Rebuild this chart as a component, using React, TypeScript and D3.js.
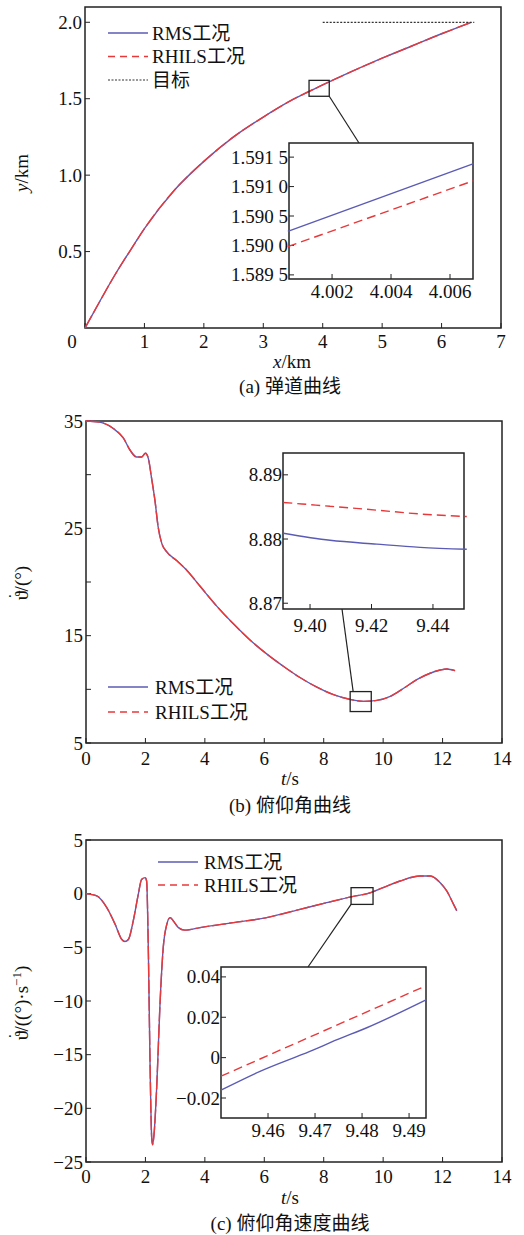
import React, { useRef, useEffect } from "react";
import * as d3 from "d3";

// (a) trajectory, km
const trajX = [0, 0.25, 0.5, 0.75, 1, 1.5, 2, 2.5, 3, 3.5, 4, 4.5, 5, 5.5, 6, 6.5];
const trajRMS = [0, 0.175, 0.345, 0.5, 0.65, 0.9, 1.09, 1.25, 1.38, 1.495, 1.59, 1.68, 1.765, 1.845, 1.925, 2.0];
const trajRHILS = [0, 0.175, 0.345, 0.5, 0.65, 0.9, 1.09, 1.25, 1.38, 1.495, 1.59, 1.68, 1.765, 1.845, 1.925, 2.0];
const targetX = [4.0, 6.55];
const targetY = [2.0, 2.0];
const trajZoomX = [4.0005, 4.0068];
const trajZoomRMS = [1.59024, 1.59139];
const trajZoomRHILS = [1.58998, 1.5911];

// (b) pitch angle, deg
const pitchT = [0, 0.45, 0.92, 1.26, 1.48, 1.7, 1.87, 2.0, 2.1, 2.2, 2.32, 2.43, 2.55, 2.72, 3.05, 3.39, 3.84, 4.4, 4.96, 5.52, 6.08, 6.64, 7.2, 7.77, 8.33, 8.9, 9.34, 9.79, 10.24, 10.69, 11.13, 11.58, 11.92, 12.14, 12.42];
const pitchRMS = [35, 34.9, 34.3, 33.4, 32.3, 31.65, 31.65, 32.0, 31.5, 29.8, 27.6, 25.1, 23.6, 22.8, 22.0, 21.1, 19.6, 17.75, 16.1, 14.6, 13.3, 12.15, 11.1, 10.2, 9.5, 9.05, 8.88, 8.97, 9.34, 10.1, 10.9, 11.5, 11.8, 11.9, 11.75];
const pitchRHILS = pitchRMS;
const pitchZoomT = [9.3913, 9.4065, 9.4217, 9.4358, 9.451];
const pitchZoomRMS = [8.8809, 8.8798, 8.8792, 8.8787, 8.8784];
const pitchZoomRHILS = [8.8857, 8.8851, 8.8845, 8.8839, 8.8835];

// (c) pitch rate, deg/s
const rateT = [0, 0.36, 0.7, 0.98, 1.2, 1.31, 1.43, 1.59, 1.76, 1.87, 1.99, 2.04, 2.1, 2.15, 2.21, 2.24, 2.29, 2.38, 2.49, 2.6, 2.72, 2.83, 2.94, 3.11, 3.33, 3.84, 4.96, 6.08, 7.2, 8.1, 9.0, 9.47, 10.0, 10.57, 11.24, 11.58, 11.92, 12.14, 12.37, 12.48];
const rateRMS = [0, -0.2, -1.3, -2.85, -4.25, -4.46, -4.25, -2.54, -0.06, 1.33, 1.49, 1.18, -5.6, -14.9, -22.7, -23.4, -22.4, -18.0, -10.3, -5.0, -2.85, -2.23, -2.54, -3.16, -3.4, -3.16, -2.7, -2.23, -1.46, -0.84, -0.25, 0, 0.56, 1.18, 1.64, 1.64, 1.02, 0.25, -1.0, -1.6];
const rateRHILS = rateRMS;
const rateZoomT = [9.45, 9.4583, 9.4689, 9.4747, 9.481, 9.4936];
const rateZoomRMS = [-0.0161, -0.0068, 0.0031, 0.0089, 0.0148, 0.0286];
const rateZoomTR = [9.45, 9.4936];
const rateZoomRHILS = [-0.0092, 0.0356];

const seriesNames = ["RMS工况", "RHILS工况", "目标"];

const BLUE = "#5b5bb5";
const RED = "#e8383a";
const INK = "#222";
const FONT = "Liberation Serif, Noto Sans CJK SC, serif";
const FS = 19;

type Sel = d3.Selection<SVGGElement, unknown, null, undefined>;

function drawFrame(
  g: Sel,
  x: d3.ScaleLinear<number, number>,
  y: d3.ScaleLinear<number, number>,
  xTicks: number[],
  yTicks: number[],
  xFmt: (d: number) => string,
  yFmt: (d: number) => string,
  labelGap: number,
  yGap: number
) {
  const [x0, x1] = x.range();
  const [y0, y1] = y.range();
  g.append("rect")
    .attr("x", x0)
    .attr("y", y1)
    .attr("width", x1 - x0)
    .attr("height", y0 - y1)
    .attr("fill", "none")
    .attr("stroke", INK)
    .attr("stroke-width", 1.5);
  g.append("g")
    .selectAll("line")
    .data(xTicks)
    .join("line")
    .attr("x1", (d) => x(d))
    .attr("x2", (d) => x(d))
    .attr("y1", y0)
    .attr("y2", y0 - 5)
    .attr("stroke", INK);
  g.append("g")
    .selectAll("line")
    .data(yTicks)
    .join("line")
    .attr("x1", x0)
    .attr("x2", x0 + 5)
    .attr("y1", (d) => y(d))
    .attr("y2", (d) => y(d))
    .attr("stroke", INK);
  g.append("g")
    .selectAll("text")
    .data(xTicks.filter((d) => xFmt(d) !== ""))
    .join("text")
    .attr("x", (d) => x(d))
    .attr("y", y0 + labelGap)
    .attr("text-anchor", "middle")
    .attr("font-family", FONT)
    .style("font-size", `${FS}px`)
    .text(xFmt);
  g.append("g")
    .selectAll("text")
    .data(yTicks.filter((d) => yFmt(d) !== ""))
    .join("text")
    .attr("x", x0 - yGap)
    .attr("y", (d) => y(d))
    .attr("text-anchor", "end")
    .attr("dominant-baseline", "central")
    .attr("font-family", FONT)
    .style("font-size", `${FS}px`)
    .text(yFmt);
}

function drawSeries(
  g: Sel,
  x: d3.ScaleLinear<number, number>,
  y: d3.ScaleLinear<number, number>,
  xs: number[],
  a: number[],
  b: number[],
  dash: string,
  xb: number[] = xs
) {
  const line = (xv: number[]) =>
    d3
      .line<number>()
      .x((_, i) => x(xv[i]))
      .y((d) => y(d))
      .curve(d3.curveMonotoneX);
  g.append("path").attr("d", line(xs)(a)).attr("fill", "none").attr("stroke", BLUE).attr("stroke-width", 1.4);
  g.append("path")
    .attr("d", line(xb)(b))
    .attr("fill", "none")
    .attr("stroke", RED)
    .attr("stroke-width", 1.4)
    .attr("stroke-dasharray", dash);
}

function label(g: Sel, x: number, y: number, html: string, rotate = false) {
  const t = g
    .append("text")
    .attr("text-anchor", "middle")
    .attr("font-family", FONT)
    .style("font-size", `${FS}px`);
  if (rotate) t.attr("transform", `translate(${x},${y}) rotate(-90)`);
  else t.attr("x", x).attr("y", y);
  t.html(html);
}

function drawLegend(g: Sel, lx: number, ly: number, gap: number, tx: number, names: string[]) {
  const styles = [
    { stroke: BLUE, dash: null as string | null, w: 1.4 },
    { stroke: RED, dash: "7,5", w: 1.4 },
    { stroke: "#333", dash: "2,1.5", w: 1.2 },
  ];
  names.forEach((n, i) => {
    const yy = ly + i * gap;
    const s = styles[i];
    const l = g.append("line").attr("x1", lx).attr("x2", lx + 40).attr("y1", yy).attr("y2", yy)
      .attr("stroke", s.stroke).attr("stroke-width", s.w);
    if (s.dash) l.attr("stroke-dasharray", s.dash);
    g.append("text").attr("x", lx + tx).attr("y", yy).attr("dominant-baseline", "central")
      .attr("font-family", FONT).style("font-size", `${FS}px`).text(n);
  });
}

const thetaDot = '<tspan>ϑ</tspan><tspan dx="-8" dy="-12" font-size="16px">·</tspan><tspan dx="2" dy="12">';

export default function App() {
  const ref = useRef<SVGSVGElement>(null);

  useEffect(() => {
    const svg = d3.select(ref.current);
    svg.selectAll("*").remove();
    const root = svg.append("g").attr("font-family", FONT).attr("fill", "#111") as unknown as Sel;

    // ---------- (a) ----------
    {
      const x = d3.scaleLinear().domain([0, 7]).range([85, 501]);
      const y = d3.scaleLinear().domain([0, 2.1]).range([328, 7]);
      const g = root.append("g");
      drawFrame(g, x, y, [0, 1, 2, 3, 4, 5, 6, 7], [0.5, 1.0, 1.5, 2.0],
        (d) => (d === 0 ? "" : String(d)), (d) => d.toFixed(1), 20, 3);
      label(g, 72, 348, "0");
      drawSeries(g, x, y, trajX, trajRMS, trajRHILS, "14,3");
      g.append("path")
        .attr("d", d3.line<number>().x((_, i) => x(targetX[i])).y((d) => y(d))(targetY))
        .attr("fill", "none").attr("stroke", "#333").attr("stroke-width", 1.2).attr("stroke-dasharray", "2,1.5");
      drawLegend(g, 108, 33, 23.5, 44, seriesNames);
      // zoom box
      const bx0 = x(3.77), bx1 = x(4.11), by0 = y(1.62), by1 = y(1.516);
      g.append("rect").attr("x", bx0).attr("y", by0).attr("width", bx1 - bx0).attr("height", by1 - by0)
        .attr("fill", "none").attr("stroke", INK).attr("stroke-width", 1.3);
      g.append("line").attr("x1", bx1).attr("y1", by1).attr("x2", 359).attr("y2", 143).attr("stroke", INK).attr("stroke-width", 1.2);
      // inset
      const ix = d3.scaleLinear().domain([4.00054, 4.00678]).range([289, 473]);
      const iy = d3.scaleLinear().domain([1.58943, 1.59174]).range([279, 143]);
      const ig = g.append("g");
      ig.append("rect").attr("x", 289).attr("y", 143).attr("width", 184).attr("height", 136).attr("fill", "#fff");
      drawFrame(ig, ix, iy, [4.002, 4.004, 4.006], [1.5895, 1.59, 1.5905, 1.591, 1.5915],
        (d) => d.toFixed(3), (d) => { const s = d.toFixed(4); return s.slice(0, 5) + " " + s.slice(5); }, 19, 1);
      drawSeries(ig, ix, iy, trajZoomX, trajZoomRMS, trajZoomRHILS, "9,5");
      label(g, 292, 368, '<tspan font-style="italic">x</tspan>/km');
      label(g, 28, 173, '<tspan font-style="italic">y</tspan>/km', true);
      label(g, 290, 393, "(a) 弹道曲线");
    }

    // ---------- (b) ----------
    {
      const x = d3.scaleLinear().domain([0, 14]).range([86, 502]);
      const y = d3.scaleLinear().domain([5, 35]).range([743, 421]);
      const g = root.append("g");
      drawFrame(g, x, y, d3.range(0, 15, 2), d3.range(5, 36, 5),
        (d) => String(d), (d) => ([5, 15, 25, 35].includes(d) ? String(d) : ""), 22, 3);
      drawSeries(g, x, y, pitchT, pitchRMS, pitchRHILS, "14,3");
      drawLegend(g, 108, 687, 25, 47, seriesNames.slice(0, 2));
      const bx0 = x(8.89), bx1 = x(9.6), by0 = y(9.79), by1 = y(7.93);
      g.append("rect").attr("x", bx0).attr("y", by0).attr("width", bx1 - bx0).attr("height", by1 - by0)
        .attr("fill", "none").attr("stroke", INK).attr("stroke-width", 1.3);
      g.append("line").attr("x1", 342).attr("y1", 609).attr("x2", bx0 + 3).attr("y2", by0).attr("stroke", INK).attr("stroke-width", 1.2);
      const ix = d3.scaleLinear().domain([9.3912, 9.4501]).range([283, 464]);
      const iy = d3.scaleLinear().domain([8.8691, 8.8934]).range([609, 453]);
      const ig = g.append("g");
      ig.append("rect").attr("x", 283).attr("y", 453).attr("width", 181).attr("height", 156).attr("fill", "#fff");
      drawFrame(ig, ix, iy, [9.4, 9.42, 9.44], [8.87, 8.88, 8.89],
        (d) => d.toFixed(2), (d) => d.toFixed(2), 23, 1);
      drawSeries(ig, ix, iy, pitchZoomT, pitchZoomRMS, pitchZoomRHILS, "9,5");
      label(g, 290, 785, '<tspan font-style="italic">t</tspan>/s');
      label(g, 28, 583, thetaDot + "/(°)</tspan>", true);
      label(g, 290, 812, "(b) 俯仰角曲线");
    }

    // ---------- (c) ----------
    {
      const x = d3.scaleLinear().domain([0, 14]).range([86, 502]);
      const y = d3.scaleLinear().domain([-25, 5]).range([1162, 840]);
      const g = root.append("g");
      const minus = (d: number) => (d < 0 ? "\u2212" + String(-d) : String(d));
      drawFrame(g, x, y, d3.range(0, 15, 2), d3.range(-25, 6, 5), (d) => String(d), minus, 21, 3);
      drawSeries(g, x, y, rateT, rateRMS, rateRHILS, "14,3");
      drawLegend(g, 158, 862, 23, 46, seriesNames.slice(0, 2));
      const bx0 = x(8.92), bx1 = x(9.66), by0 = y(0.56), by1 = y(-1.0);
      g.append("rect").attr("x", bx0).attr("y", by0).attr("width", bx1 - bx0).attr("height", by1 - by0)
        .attr("fill", "none").attr("stroke", INK).attr("stroke-width", 1.3);
      g.append("line").attr("x1", 308).attr("y1", 967).attr("x2", bx0).attr("y2", by1).attr("stroke", INK).attr("stroke-width", 1.2);
      const ix = d3.scaleLinear().domain([9.45, 9.4936]).range([221, 426]);
      const iy = d3.scaleLinear().domain([-0.0299, 0.0449]).range([1118, 967]);
      const ig = g.append("g");
      ig.append("rect").attr("x", 221).attr("y", 967).attr("width", 205).attr("height", 151).attr("fill", "#fff");
      drawFrame(ig, ix, iy, [9.46, 9.47, 9.48, 9.49], [-0.02, 0, 0.02, 0.04],
        (d) => d.toFixed(2), (d) => (d === 0 ? "0" : d < 0 ? "\u2212" + (-d).toFixed(2) : d.toFixed(2)), 19, 1);
      drawSeries(ig, ix, iy, rateZoomT, rateZoomRMS, rateZoomRHILS, "9,5", rateZoomTR);
      label(g, 290, 1204, '<tspan font-style="italic">t</tspan>/s');
      label(g, 28, 1003, thetaDot + '/((°)·s<tspan baseline-shift="super" font-size="13px">−1</tspan>)</tspan>', true);
      label(g, 290, 1230, "(c) 俯仰角速度曲线");
    }
  }, []);

  return (
    <svg
      ref={ref}
      width={524}
      height={1235}
      style={{ position: "absolute", left: 0, top: 0, background: "#fff" }}
    />
  );
}
